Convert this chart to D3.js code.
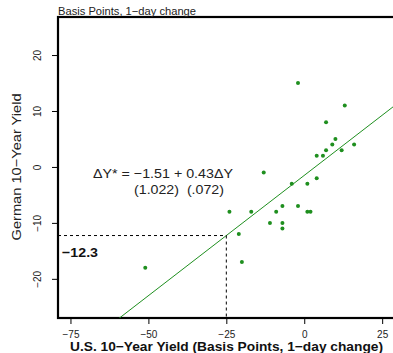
<!DOCTYPE html>
<html>
<head>
<meta charset="utf-8">
<script src="https://cdn.jsdelivr.net/npm/d3@7"></script>
<style>
  html, body { margin: 0; padding: 0; background: #fff; }
  svg { display: block; font-family: "Liberation Sans", Arial, Helvetica, sans-serif; }
  text { white-space: pre; }
</style>
</head>
<body>
<svg id="chart" width="393" height="353"></svg>
<script>
// ---- data ----
const usYield      = [13, 7, 10, 9, 16, 7, 4, 6, 12, -13, -4, 1, 4, -2, -24, -17, -9, -7, -2, 1, 2, -11, -7, -7, -21, -20, -51];
const germanYield  = [11, 8, 5, 4, 4, 3, 2, 2, 3, -1, -3, -3, -2, 15, -8, -8, -8, -7, -7, -8, -8, -10, -10, -11, -12, -17, -18];
const xTicks = [-75, -50, -25, 0, 25];
const yTicks = [-20, -10, 0, 10, 20];
const intercept = -1.51;
const slope = 0.43;
const markX = -25;
const markLabel = "\u221212.3";
const subtitle = "Basis Points, 1\u2212day change";
const xTitle = "U.S. 10\u2212Year Yield (Basis Points, 1\u2212day change)";
const yTitle = "German 10\u2212Year Yield";
const eqLine1 = "\u0394Y* = \u22121.51 + 0.43\u0394Y";
const eqLine2 = "(1.022)  (.072)";

const green = "#1f8f1f";
const svg = d3.select("#chart");

const mLeft = 58, mTop = 17, mBottom = 318;
const x = d3.scaleLinear().domain([-79, 30]).range([mLeft, mLeft + 109 * 3.117]);
const y = d3.scaleLinear().domain([-27, 26.8]).range([mBottom, mTop]);
const mRight = x.range()[1];

const fmt = d => d < 0 ? "\u2212" + Math.abs(d) : String(d);

function fitText(sel, len) {
  return sel.attr("textLength", len).attr("lengthAdjust", "spacingAndGlyphs");
}

// clip
svg.append("clipPath").attr("id", "clip")
  .append("rect").attr("x", mLeft).attr("y", mTop).attr("width", mRight - mLeft).attr("height", mBottom - mTop);

// x axis ticks
const xAxis = d3.axisBottom(x).tickValues(xTicks).tickSize(6).tickFormat(fmt);
const gx = svg.append("g").attr("transform", `translate(0,${mBottom})`).call(xAxis);
gx.select(".domain").remove();
gx.selectAll("line").attr("stroke", "#000");
gx.selectAll("text").attr("font-size", 10).attr("fill", "#222").attr("dy", null).attr("y", 19.5);

// y axis ticks
const yAxis = d3.axisLeft(y).tickValues(yTicks).tickSize(6).tickFormat(fmt);
const gy = svg.append("g").attr("transform", `translate(${mLeft},0)`).call(yAxis);
gy.select(".domain").remove();
gy.selectAll("line").attr("stroke", "#000");
gy.selectAll("text")
  .attr("font-size", 10).attr("fill", "#222")
  .attr("x", null).attr("dy", null)
  .attr("text-anchor", "middle")
  .attr("transform", "translate(-21,0) rotate(-90)")
  .attr("y", 3.6);

// box
svg.append("rect")
  .attr("x", mLeft).attr("y", mTop).attr("width", mRight - mLeft).attr("height", mBottom - mTop)
  .attr("fill", "none").attr("stroke", "#000").attr("stroke-width", 2.2);

const plot = svg.append("g").attr("clip-path", "url(#clip)");

// regression line
const dom = x.domain();
plot.append("line")
  .attr("x1", x(dom[0])).attr("y1", y(intercept + slope * dom[0]))
  .attr("x2", x(dom[1])).attr("y2", y(intercept + slope * dom[1]))
  .attr("stroke", green).attr("stroke-width", 1);

// dashed guide lines
const markY = intercept + slope * markX;
plot.append("line")
  .attr("x1", x(dom[0])).attr("x2", x(markX))
  .attr("y1", y(markY)).attr("y2", y(markY))
  .attr("stroke", "#000").attr("stroke-width", 1).attr("stroke-dasharray", "3,3");
plot.append("line")
  .attr("x1", x(markX)).attr("x2", x(markX))
  .attr("y1", y(markY)).attr("y2", y(y.domain()[0]))
  .attr("stroke", "#000").attr("stroke-width", 1).attr("stroke-dasharray", "3,3");

// points
plot.selectAll("circle.pt").data(usYield).join("circle")
  .attr("class", "pt")
  .attr("cx", d => x(d))
  .attr("cy", (d, i) => y(germanYield[i]))
  .attr("r", 2)
  .attr("fill", green);

// labels
fitText(svg.append("text").attr("x", mLeft + 4).attr("y", y(markY) + 21)
  .attr("font-size", 13.5).attr("font-weight", "bold").attr("fill", "#111").text(markLabel), 36);

fitText(svg.append("text").attr("x", 93).attr("y", 178.3)
  .attr("font-size", 13).attr("fill", "#222").text(eqLine1), 140);
fitText(svg.append("text").attr("x", 134).attr("y", 194.3)
  .attr("font-size", 13).attr("fill", "#222").text(eqLine2), 90);

fitText(svg.append("text").attr("x", mLeft).attr("y", 14.5)
  .attr("font-size", 11).attr("fill", "#222").text(subtitle), 138);

fitText(svg.append("text").attr("x", 70).attr("y", 350.5)
  .attr("font-size", 13).attr("font-weight", "bold")
  .attr("fill", "#111").text(xTitle), 313);

fitText(svg.append("text")
  .attr("transform", `translate(21,${y(0)}) rotate(-90)`)
  .attr("x", -73.5)
  .attr("font-size", 13)
  .attr("fill", "#222").text(yTitle), 147);
</script>
</body>
</html>
